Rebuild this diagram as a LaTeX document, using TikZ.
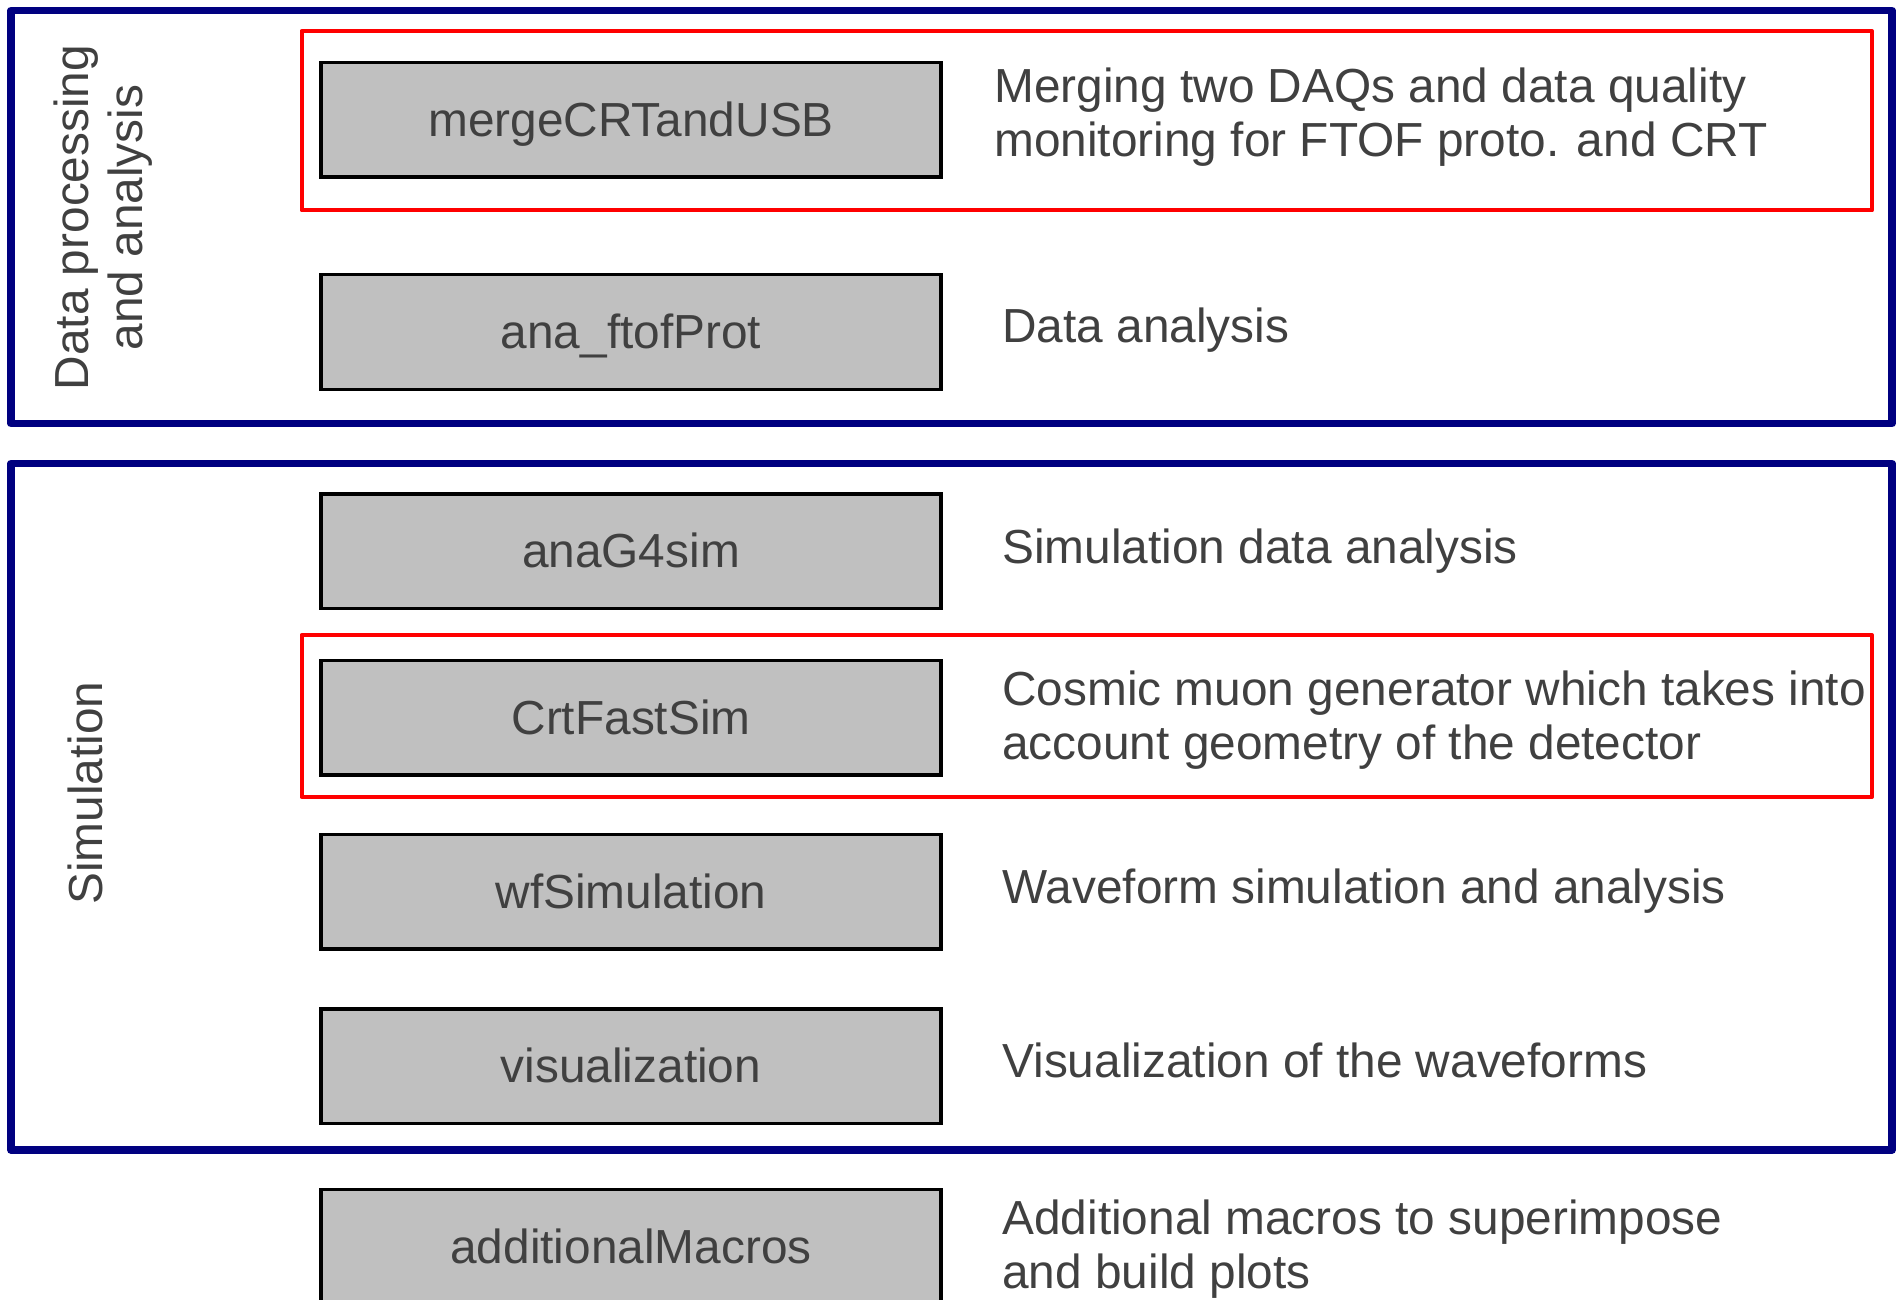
\documentclass[tikz,border=0pt]{standalone}
\usepackage{fontspec}
\setmainfont{Liberation Sans}
\definecolor{navyframe}{HTML}{000080}
\definecolor{inkgray}{HTML}{404040}
\definecolor{boxgray}{HTML}{C0C0C0}
\definecolor{hired}{HTML}{FF0000}

\tikzset{
  txt/.style={font=\fontsize{23.9pt}{27pt}\selectfont, text=inkgray, inner sep=0pt},
  module/.style={txt, draw=black, line width=1.75pt, fill=boxgray,
    minimum width=310pt, minimum height=57.25pt, text height=16.5pt, text depth=0pt},
  desc/.style={txt, anchor=base west},
  desctwo/.style={txt, anchor=west, align=left},
  grouplabel/.style={txt, rotate=90, align=center},
  groupframe/.style={draw=navyframe, line width=3.75pt, line join=round},
  highlight/.style={draw=hired, line width=2pt, line join=round}
}

\begin{document}
\begin{tikzpicture}[x=0.5pt,y=-0.5pt]
  \useasboundingbox (0,0) rectangle (1896,1300);

  % group frames
  \draw[groupframe] (11,10.5) rectangle (1892,423.5);
  \draw[groupframe] (11,463.5) rectangle (1892,1150);

  % highlighted entries
  \draw[highlight] (301.5,31) rectangle (1872,210.5);
  \draw[highlight] (301.5,635) rectangle (1872,797);

  % group titles
  \node[grouplabel] (gdata) at (103,217.5) {Data processing\\and analysis};
  \node[grouplabel, anchor=base] (gsim) at (102.5,793) {Simulation};

  % modules
  \node[module] (merge) at (631,120)    {mergeCRTandUSB};
  \node[module] (ana)   at (631,332)    {ana\_ftofProt};
  \node[module] (g4)    at (631,551)    {anaG4sim};
  \node[module] (crt)   at (631,717.5)  {CrtFastSim};
  \node[module] (wf)    at (631,891.5)  {wfSimulation};
  \node[module] (vis)   at (631,1066)   {visualization};
  \node[module] (addm)  at (631,1246.5) {additionalMacros};

  % descriptions
  \node[desctwo] (dmerge) at (994,117) {Merging two DAQs and data quality\\monitoring for FTOF proto. and CRT};
  \node[desc] (dana) at (1002,343) {Data analysis};
  \node[desc] (dg4)  at (1002,563) {Simulation data analysis};
  \node[desctwo] (dcrt) at (1002,720.5) {Cosmic muon generator which takes into\\account geometry of the detector};
  \node[desc] (dwf)  at (1002,903.6) {Waveform simulation and analysis};
  \node[desc] (dvis) at (1002,1077.7) {Visualization of the waveforms};
  \node[desctwo] (daddm) at (1002,1249) {Additional macros to superimpose\\and build plots};
\end{tikzpicture}
\end{document}
